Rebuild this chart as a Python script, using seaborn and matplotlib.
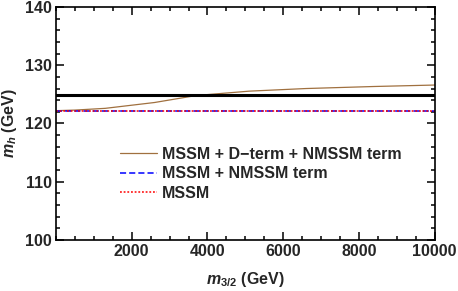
import numpy as np
import pandas as pd
import matplotlib
matplotlib.use("Agg")
import matplotlib.pyplot as plt
import seaborn as sns
from matplotlib.ticker import MultipleLocator

# values
m32 = [0, 500, 1300, 2600, 3700, 5100, 6600, 8400, 10000]
mh_dterm = [122.2, 122.3, 122.6, 123.6, 124.8, 125.55, 126.0, 126.35, 126.6]
m32_flat = [0, 10000]
mh_nmssm = [122.15, 122.15]
mh_mssm = [122.12, 122.12]
mh_higgs = [124.9, 124.9]

labels = ["MSSM + D\u2212term + NMSSM term", "MSSM + NMSSM term", "MSSM"]

sns.set_theme(style="ticks")
plt.rcParams["font.family"] = ["Liberation Sans", "DejaVu Sans"]
plt.rcParams["font.weight"] = "bold"
plt.rcParams["mathtext.fontset"] = "custom"
plt.rcParams["mathtext.it"] = "Liberation Sans:bold:italic"
plt.rcParams["mathtext.rm"] = "Liberation Sans:bold"

fig = plt.figure(figsize=(4.58, 2.91), dpi=100)
ax = fig.add_axes([0.1223, 0.1753, 0.8268, 0.8007])

sns.lineplot(x=m32, y=mh_dterm, ax=ax, color="#a0703f", lw=0.9, label=labels[0])
sns.lineplot(x=m32_flat, y=mh_nmssm, ax=ax, color="blue", lw=1.1,
             linestyle=(0, (4, 2)), label=labels[1])
sns.lineplot(x=m32_flat, y=mh_mssm, ax=ax, color="red", lw=1.1,
             linestyle=(0, (1.2, 1.2)), label=labels[2])
ax.plot(m32_flat, mh_higgs, color="black", lw=2.2, zorder=5)

ax.set_xlim(0, 10000)
ax.set_ylim(100, 140)
ax.set_xticks([2000, 4000, 6000, 8000, 10000])
ax.set_yticks([100, 110, 120, 130, 140])
ax.xaxis.set_minor_locator(MultipleLocator(500))
ax.yaxis.set_minor_locator(MultipleLocator(2))
ax.tick_params(which="both", direction="in", top=True, right=True,
               labelsize=11.5, width=1.1, color="black", pad=3)
ax.tick_params(which="major", length=6)
ax.tick_params(which="minor", length=3)
for lab in ax.get_xticklabels() + ax.get_yticklabels():
    lab.set_fontweight("bold")
for sp in ax.spines.values():
    sp.set_linewidth(1.2)
    sp.set_color("black")

ax.set_xlabel(r"$m_{3/2}$ (GeV)", fontsize=11.5, fontweight="bold", labelpad=8)
ax.set_ylabel(r"$m_h$ (GeV)", fontsize=11.5, fontweight="bold", labelpad=4)

leg = ax.legend(loc="upper left", bbox_to_anchor=(0.152, 0.428), frameon=False,
                fontsize=11.5, handlelength=2.3, handletextpad=0.35,
                labelspacing=0.28, borderaxespad=0)
for t in leg.get_texts():
    t.set_fontweight("bold")

fig.savefig("out.png", dpi=100)
